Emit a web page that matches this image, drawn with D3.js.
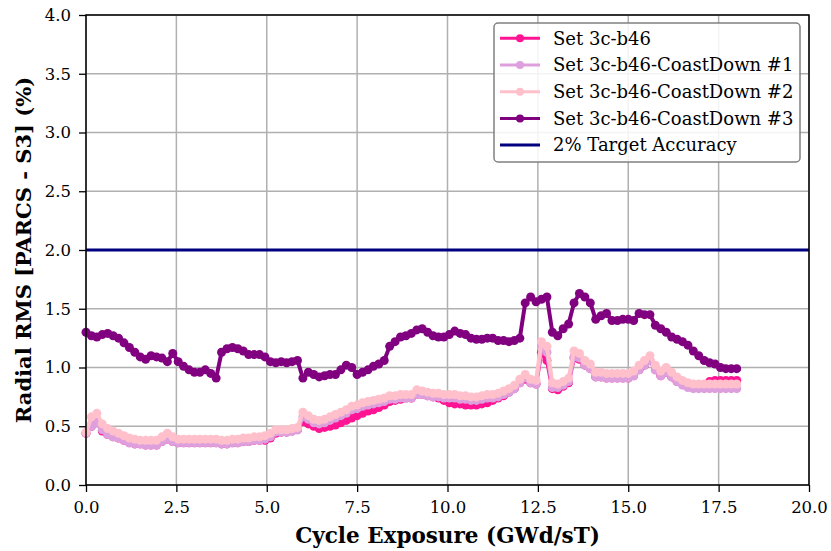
<!DOCTYPE html>
<html>
<head>
<meta charset="utf-8">
<script src="https://cdn.jsdelivr.net/npm/d3@7"></script>
<style>
  html, body { margin: 0; padding: 0; background: #fff; }
  svg { display: block; }
  text { font-family: "DejaVu Serif", serif; }
</style>
</head>
<body>
<svg id="chart" width="831" height="551"></svg>
<script>
// Cycle exposure points (GWd/sT)
const exposure = [0,0.15,0.3,0.45,0.6,0.75,0.9,1.05,1.2,1.35,1.5,1.65,1.8,1.95,2.1,2.25,2.4,2.55,2.7,2.85,3.0,3.15,3.3,3.45,3.6,3.75,3.9,4.05,4.2,4.35,4.5,4.65,4.8,4.95,5.1,5.25,5.4,5.55,5.7,5.85,6.0,6.15,6.3,6.45,6.6,6.75,6.9,7.05,7.2,7.35,7.5,7.65,7.8,7.95,8.1,8.25,8.4,8.55,8.7,8.85,9.0,9.15,9.3,9.45,9.6,9.75,9.9,10.05,10.2,10.35,10.5,10.65,10.8,10.95,11.1,11.25,11.4,11.55,11.7,11.85,12.0,12.15,12.3,12.45,12.6,12.75,12.9,13.05,13.2,13.35,13.5,13.65,13.8,13.95,14.1,14.25,14.4,14.55,14.7,14.85,15.0,15.15,15.3,15.45,15.6,15.75,15.9,16.05,16.2,16.35,16.5,16.65,16.8,16.95,17.1,17.25,17.4,17.55,17.7,17.85,18.0];

// Radial RMS (%) per set
const setBase = [0.44,0.50,0.53,0.46,0.43,0.41,0.40,0.38,0.36,0.35,0.35,0.34,0.34,0.34,0.37,0.39,0.37,0.36,0.36,0.36,0.36,0.36,0.36,0.36,0.36,0.35,0.35,0.36,0.36,0.37,0.37,0.38,0.38,0.38,0.40,0.44,0.45,0.45,0.46,0.47,0.54,0.52,0.50,0.48,0.49,0.50,0.51,0.53,0.55,0.57,0.59,0.61,0.63,0.64,0.66,0.68,0.71,0.72,0.73,0.74,0.74,0.77,0.77,0.76,0.75,0.74,0.72,0.70,0.69,0.69,0.68,0.68,0.68,0.69,0.70,0.72,0.74,0.76,0.79,0.82,0.87,0.90,0.87,0.86,1.13,1.06,0.82,0.81,0.84,0.87,1.08,1.07,1.02,0.99,0.92,0.92,0.91,0.91,0.91,0.91,0.91,0.93,0.98,1.02,1.06,0.98,0.93,0.96,0.92,0.88,0.86,0.84,0.84,0.84,0.85,0.88,0.89,0.89,0.89,0.89,0.89];

const setCD1 = [0.44,0.50,0.53,0.47,0.43,0.41,0.40,0.38,0.36,0.35,0.35,0.34,0.34,0.34,0.37,0.39,0.37,0.36,0.36,0.36,0.36,0.36,0.36,0.36,0.36,0.35,0.35,0.36,0.36,0.37,0.37,0.38,0.38,0.39,0.41,0.45,0.45,0.45,0.46,0.47,0.58,0.56,0.53,0.52,0.53,0.55,0.57,0.59,0.61,0.64,0.65,0.67,0.68,0.69,0.70,0.71,0.73,0.73,0.74,0.74,0.74,0.77,0.77,0.76,0.75,0.75,0.74,0.74,0.74,0.73,0.73,0.72,0.72,0.73,0.74,0.74,0.75,0.77,0.79,0.82,0.87,0.91,0.87,0.86,1.17,1.13,0.83,0.83,0.85,0.88,1.09,1.08,1.02,0.99,0.92,0.92,0.91,0.91,0.91,0.91,0.91,0.93,0.98,1.02,1.06,0.98,0.93,0.96,0.92,0.88,0.85,0.83,0.82,0.82,0.82,0.82,0.82,0.82,0.82,0.82,0.82];

const setCD2 = [0.45,0.58,0.61,0.52,0.48,0.46,0.44,0.42,0.40,0.39,0.38,0.38,0.38,0.38,0.41,0.44,0.41,0.39,0.39,0.39,0.39,0.39,0.39,0.39,0.39,0.38,0.38,0.39,0.39,0.40,0.40,0.41,0.41,0.42,0.44,0.47,0.47,0.47,0.48,0.49,0.62,0.59,0.56,0.55,0.56,0.58,0.60,0.62,0.64,0.67,0.68,0.70,0.71,0.72,0.73,0.74,0.76,0.76,0.77,0.77,0.77,0.81,0.80,0.79,0.78,0.78,0.77,0.77,0.77,0.76,0.76,0.75,0.75,0.76,0.77,0.77,0.78,0.80,0.82,0.85,0.90,0.94,0.90,0.89,1.22,1.18,0.87,0.86,0.88,0.91,1.14,1.12,1.06,1.03,0.96,0.96,0.95,0.95,0.95,0.95,0.95,0.97,1.02,1.06,1.10,1.02,0.97,1.00,0.96,0.92,0.89,0.87,0.86,0.86,0.86,0.86,0.86,0.86,0.86,0.86,0.86];

const setCD3 = [1.30,1.27,1.26,1.28,1.29,1.27,1.25,1.21,1.17,1.13,1.09,1.07,1.10,1.09,1.08,1.05,1.12,1.05,1.01,0.98,0.96,0.96,0.98,0.95,0.91,1.13,1.16,1.17,1.16,1.14,1.11,1.11,1.11,1.09,1.05,1.04,1.05,1.04,1.05,1.06,0.91,0.96,0.94,0.92,0.93,0.94,0.94,0.98,1.02,1.00,0.94,0.96,0.98,1.01,1.03,1.06,1.18,1.22,1.26,1.27,1.29,1.32,1.33,1.30,1.27,1.26,1.26,1.28,1.31,1.29,1.28,1.25,1.24,1.24,1.25,1.25,1.23,1.23,1.22,1.23,1.25,1.55,1.60,1.56,1.58,1.60,1.30,1.27,1.33,1.37,1.55,1.63,1.60,1.55,1.41,1.44,1.46,1.40,1.40,1.41,1.41,1.40,1.46,1.45,1.45,1.36,1.33,1.30,1.26,1.24,1.22,1.19,1.14,1.10,1.06,1.04,1.03,1.00,0.99,0.99,0.99];

const targetAccuracy = 2.0;

const seriesNames = ["Set 3c-b46", "Set 3c-b46-CoastDown #1", "Set 3c-b46-CoastDown #2", "Set 3c-b46-CoastDown #3"];
const seriesValues = [setBase, setCD1, setCD2, setCD3];
const seriesColors = ["#ff1493", "#dda0dd", "#ffc0cb", "#800080"];
const targetLabel = "2% Target Accuracy";
const targetColor = "#000080";

const xTicks = [0, 2.5, 5, 7.5, 10, 12.5, 15, 17.5, 20];
const yTicks = [0, 0.5, 1, 1.5, 2, 2.5, 3, 3.5, 4];
const xTitle = "Cycle Exposure (GWd/sT)";
const yTitle = "Radial RMS [PARCS - S3] (%)";

// Layout
const svg = d3.select("#chart");
const margin = { left: 86, right: 22, top: 15, bottom: 66 };
const W = 831, H = 551;
const iw = W - margin.left - margin.right;
const ih = H - margin.top - margin.bottom;

const x = d3.scaleLinear().domain([0, 20]).range([margin.left, margin.left + iw]);
const y = d3.scaleLinear().domain([0, 4]).range([margin.top + ih, margin.top]);

// Grid
const grid = svg.append("g");
grid.selectAll(".gx").data(xTicks).join("line")
  .attr("x1", d => x(d)).attr("x2", d => x(d))
  .attr("y1", margin.top).attr("y2", margin.top + ih)
  .attr("stroke", "#b0b0b0").attr("stroke-width", 1.5);
grid.selectAll(".gy").data(yTicks).join("line")
  .attr("y1", d => y(d)).attr("y2", d => y(d))
  .attr("x1", margin.left).attr("x2", margin.left + iw)
  .attr("stroke", "#b0b0b0").attr("stroke-width", 1.5);

// Target line
svg.append("line")
  .attr("x1", margin.left).attr("x2", margin.left + iw)
  .attr("y1", y(targetAccuracy)).attr("y2", y(targetAccuracy))
  .attr("stroke", targetColor).attr("stroke-width", 2.8);

// Series
const line = d3.line().x((d, i) => x(exposure[i])).y(d => y(d));
seriesValues.forEach((vals, k) => {
  const g = svg.append("g");
  g.append("path").datum(vals)
    .attr("d", line)
    .attr("fill", "none")
    .attr("stroke", seriesColors[k])
    .attr("stroke-width", 4)
    .attr("stroke-linejoin", "round");
  g.selectAll("circle").data(vals).join("circle")
    .attr("cx", (d, i) => x(exposure[i]))
    .attr("cy", d => y(d))
    .attr("r", 4.5)
    .attr("fill", seriesColors[k]);
});

// Axes
const xAxis = d3.axisBottom(x).tickValues(xTicks).tickFormat(d3.format(".1f")).tickSizeOuter(0).tickSize(7).tickPadding(9);
const yAxis = d3.axisLeft(y).tickValues(yTicks).tickFormat(d3.format(".1f")).tickSizeOuter(0).tickSize(7).tickPadding(8);

const gx = svg.append("g").attr("transform", `translate(0,${margin.top + ih})`).call(xAxis);
const gy = svg.append("g").attr("transform", `translate(${margin.left},0)`).call(yAxis);
[gx, gy].forEach(g => {
  g.select(".domain").remove();
  g.selectAll(".tick line").attr("stroke", "#000").attr("stroke-width", 1.3);
  g.selectAll(".tick text").attr("font-family", "DejaVu Serif").attr("font-size", 16.5).attr("fill", "#000");
});

// Frame
svg.append("rect")
  .attr("x", margin.left).attr("y", margin.top)
  .attr("width", iw).attr("height", ih)
  .attr("fill", "none").attr("stroke", "#000").attr("stroke-width", 1.5);

// Axis titles
svg.append("text")
  .attr("x", margin.left + iw / 2).attr("y", 543)
  .attr("text-anchor", "middle")
  .attr("font-size", 21.5).attr("font-weight", "bold")
  .text(xTitle);
svg.append("text")
  .attr("transform", `translate(31,${margin.top + ih / 2}) rotate(-90)`)
  .attr("text-anchor", "middle")
  .attr("font-size", 21).attr("font-weight", "bold")
  .text(yTitle);

// Legend
const legend = svg.append("g").attr("transform", "translate(494,23)");
legend.append("rect")
  .attr("width", 306).attr("height", 139)
  .attr("rx", 4).attr("ry", 4)
  .attr("fill", "#fff").attr("fill-opacity", 0.85)
  .attr("stroke", "#808080").attr("stroke-width", 1.5);

const entries = seriesNames.map((n, i) => ({ name: n, color: seriesColors[i], marker: true }))
  .concat([{ name: targetLabel, color: targetColor, marker: false }]);
const rows = legend.selectAll(".row").data(entries).join("g")
  .attr("transform", (d, i) => `translate(0,${15.3 + i * 26.7})`);
rows.append("line")
  .attr("x1", 6).attr("x2", 46)
  .attr("stroke", d => d.color).attr("stroke-width", 3);
rows.filter(d => d.marker).append("circle")
  .attr("cx", 26).attr("r", 4).attr("fill", d => d.color);
rows.append("text")
  .attr("x", 59).attr("dy", "0.35em")
  .attr("font-size", 18)
  .text(d => d.name);
</script>
</body>
</html>
